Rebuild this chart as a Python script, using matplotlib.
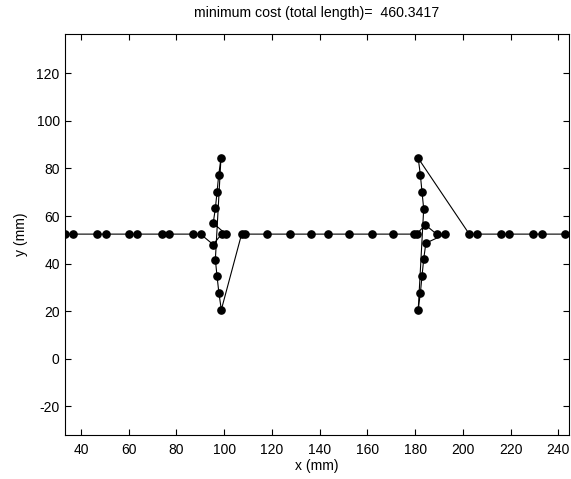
import numpy as np
from matplotlib import pyplot as plt

plt.rcParams['font.family'] = ['Liberation Sans', 'DejaVu Sans']
plt.rcParams['axes.unicode_minus'] = False

# path through the points, in visiting order
x_path = [33.3, 36.8, 46.8, 50.3, 60.2, 63.6, 73.8, 77.0, 86.8, 90.1,
          95.4, 98.9, 100.7, 95.4, 96.3, 97.0, 97.7, 98.65,
          96.3, 97.0, 97.8, 98.8,
          107.3, 108.7, 118.0, 127.6, 136.4, 143.4, 152.3, 161.8, 170.8, 179.6, 180.6,
          184.3, 189.0, 192.6, 184.5, 183.6, 182.9, 182.2, 181.3,
          183.6, 182.9, 182.2, 181.3,
          202.7, 206.0, 216.0, 219.4, 229.5, 233.0, 242.8]
y_path = [52.4, 52.4, 52.4, 52.4, 52.4, 52.4, 52.4, 52.4, 52.4, 52.4,
          48.0, 52.4, 52.4, 57.0, 63.2, 70.0, 77.2, 84.3,
          41.7, 34.7, 27.6, 20.6,
          52.4, 52.4, 52.4, 52.4, 52.4, 52.4, 52.4, 52.4, 52.4, 52.4, 52.4,
          56.3, 52.4, 52.4, 48.6, 41.9, 34.9, 27.6, 20.6,
          63.0, 70.0, 77.3, 84.3,
          52.4, 52.4, 52.4, 52.4, 52.4, 52.4, 52.4]
total_length = 460.3417

fig = plt.figure(figsize=(5.71, 4.79), dpi=100)
ax = fig.add_axes([0.113, 0.092, 0.884, 0.837])
ax.plot(x_path, y_path, '-', color='black', linewidth=0.8)
ax.plot(x_path, y_path, 'o', color='black', markersize=5.2)

ax.set_xlim(33.1, 244.6)
ax.set_ylim(-32.0, 136.5)
ax.set_xticks(np.arange(40, 241, 20))
ax.set_yticks(np.arange(-20, 121, 20))
ax.tick_params(direction='in', top=True, right=True, length=4, labelsize=10, width=0.8)
ax.tick_params(axis='x', pad=6)
for s in ax.spines.values():
    s.set_linewidth(0.8)

ax.set_xlabel('x (mm)', fontsize=10, labelpad=1.5)
ax.set_ylabel('y (mm)', fontsize=10, labelpad=6)
ax.set_title('minimum cost (total length)=  %.4f' % total_length, fontsize=10.2, pad=12)

fig.savefig('out.png', dpi=100)
